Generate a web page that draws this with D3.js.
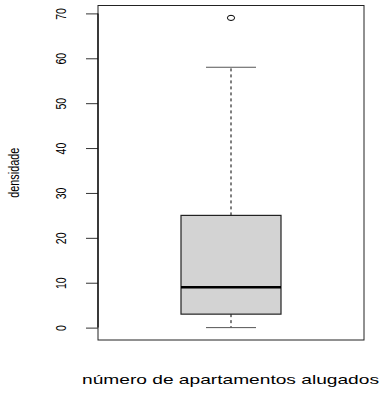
<!DOCTYPE html>
<html>
<head>
<meta charset="utf-8">
<script src="https://cdn.jsdelivr.net/npm/d3@7"></script>
<style>
  html, body { margin: 0; padding: 0; background: #fff; }
  svg { display: block; font-family: "Liberation Sans", Arial, Helvetica, sans-serif; }
</style>
</head>
<body>
<svg id="chart" width="388" height="394"></svg>
<script>
// Five-number summary of the sample and its outliers
const statNames = ["min", "q1", "median", "q3", "max"];
const statValues = [0, 3, 9, 25, 58];
const outliers = [69];
const yTicks = [0, 10, 20, 30, 40, 50, 60, 70];
const yLabel = "densidade";
const xLabel = "número de apartamentos alugados";

const stats = Object.fromEntries(statNames.map((n, i) => [n, statValues[i]]));

const W = 388, H = 394;
const plot = { left: 98, right: 364, top: 5.5, bottom: 340 };

// y range padded by 4% on each side of the data range
const lo = d3.min([stats.min, ...outliers]);
const hi = d3.max([stats.max, ...outliers]);
const pad = (hi - lo) * 0.04;
const y = d3.scaleLinear().domain([lo - pad, hi + pad]).range([plot.bottom, plot.top]);
const x = d3.scaleLinear().domain([0.5, 1.5]).range([plot.left, plot.right]);

const svg = d3.select("#chart");

// frame
svg.append("rect")
  .attr("x", plot.left).attr("y", plot.top)
  .attr("width", plot.right - plot.left).attr("height", plot.bottom - plot.top)
  .attr("fill", "none").attr("stroke", "#222").attr("stroke-width", 1);

// y axis
const axis = d3.axisLeft(y).tickValues(yTicks).tickSize(12).tickFormat(d3.format("d"));
const gAxis = svg.append("g").attr("transform", `translate(${plot.left},0)`).call(axis);
gAxis.select(".domain").remove();
gAxis.append("line")
  .attr("x1", 0).attr("x2", 0)
  .attr("y1", y(yTicks[0])).attr("y2", y(yTicks[yTicks.length - 1]))
  .attr("stroke", "#000").attr("stroke-width", 1.2);
gAxis.selectAll(".tick line").attr("stroke", "#333");
gAxis.selectAll(".tick text")
  .attr("x", null).attr("dy", null)
  .attr("transform", "translate(-32,0) rotate(-90) scale(0.75,1)")
  .attr("text-anchor", "middle")
  .attr("font-size", 14)
  .attr("font-family", "Liberation Sans, Arial, sans-serif")
  .attr("fill", "#000");

// box
const cx = x(1);
const boxHalf = 50, capHalf = 25;

// whiskers
svg.append("line")
  .attr("x1", cx).attr("x2", cx).attr("y1", y(stats.q3)).attr("y2", y(stats.max))
  .attr("stroke", "#000").attr("stroke-dasharray", "3,3");
svg.append("line")
  .attr("x1", cx).attr("x2", cx).attr("y1", y(stats.q1)).attr("y2", y(stats.min))
  .attr("stroke", "#000").attr("stroke-dasharray", "3,3");
[stats.min, stats.max].forEach(v => {
  svg.append("line")
    .attr("x1", cx - capHalf).attr("x2", cx + capHalf).attr("y1", y(v)).attr("y2", y(v))
    .attr("stroke", "#555").attr("stroke-width", 1);
});

svg.append("rect")
  .attr("x", cx - boxHalf).attr("y", y(stats.q3))
  .attr("width", boxHalf * 2).attr("height", y(stats.q1) - y(stats.q3))
  .attr("fill", "#d3d3d3").attr("stroke", "#222").attr("stroke-width", 1.2);

svg.append("line")
  .attr("x1", cx - boxHalf).attr("x2", cx + boxHalf)
  .attr("y1", y(stats.median)).attr("y2", y(stats.median))
  .attr("stroke", "#000").attr("stroke-width", 2.6);

// outliers
svg.selectAll("ellipse.out").data(outliers).enter().append("ellipse")
  .attr("class", "out")
  .attr("cx", cx).attr("cy", d => y(d))
  .attr("rx", 3.6).attr("ry", 2.6)
  .attr("fill", "none").attr("stroke", "#000").attr("stroke-width", 1);

// axis titles
svg.append("text")
  .attr("transform", `translate(19,${(plot.top + plot.bottom) / 2}) rotate(-90)`)
  .attr("text-anchor", "middle")
  .attr("font-size", 14)
  .attr("textLength", 50).attr("lengthAdjust", "spacingAndGlyphs")
  .attr("fill", "#000")
  .text(yLabel);

svg.append("text")
  .attr("x", 82).attr("y", 384)
  .attr("font-size", 13)
  .attr("textLength", 297).attr("lengthAdjust", "spacingAndGlyphs")
  .attr("fill", "#000")
  .text(xLabel);
</script>
</body>
</html>
